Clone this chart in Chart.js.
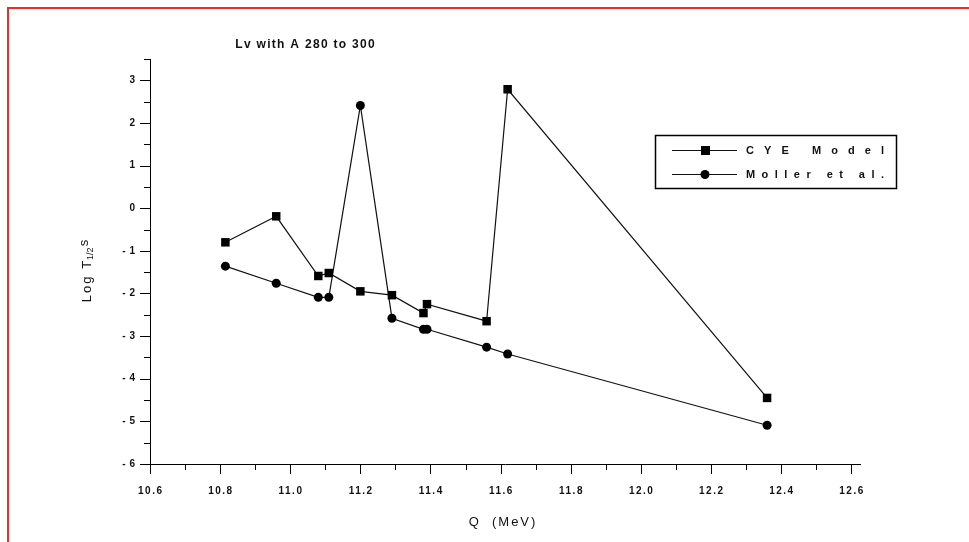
<!DOCTYPE html>
<html>
<head>
<meta charset="utf-8">
<script src="https://cdn.jsdelivr.net/npm/chart.js@4.4.1/dist/chart.umd.min.js"></script>
<style>
  html, body { margin: 0; padding: 0; background: #fff; }
  #wrap { position: relative; width: 969px; height: 542px; }
  #frame { position: absolute; left: 7px; top: 7px; right: 0; bottom: 0;
           border-top: 2px solid #ee2b2b; border-left: 2px solid #ee2b2b; pointer-events: none; }
  canvas { display: block; }
</style>
</head>
<body>
<div id="wrap">
  <canvas id="chart" width="969" height="542"></canvas>
  <div id="frame"></div>
</div>
<script>
// Q (MeV) and log half-lives
const qValues    = [10.815, 10.96, 11.08, 11.11, 11.20, 11.29, 11.38, 11.39, 11.56, 11.62, 12.36];
const cyeModel   = [-0.80, -0.19, -1.59, -1.52, -1.95, -2.04, -2.46, -2.25, -2.65, 2.79, -4.45];
const mollerEtAl = [-1.36, -1.76, -2.09, -2.09, 2.41, -2.58, -2.84, -2.84, -3.26, -3.42, -5.09];
const seriesNames = ['CYE Model', 'Moller et al.'];

const xTickLabels = ['10.6', '10.8', '11.0', '11.2', '11.4', '11.6', '11.8', '12.0', '12.2', '12.4', '12.6'];
const yTickLabels = ['3', '2', '1', '0', '-1', '-2', '-3', '-4', '-5', '-6'];

const chartTitle = 'Lv with A 280 to 300';
const xTitle = 'Q  (MeV)';

const INK = '#111';

function toPoints(ys) {
  return qValues.map((q, i) => ({ x: q, y: ys[i] }));
}

function spacedText(ctx, text, x, y, font, spacing, align) {
  ctx.save();
  ctx.font = font;
  ctx.letterSpacing = spacing + 'px';
  const w = ctx.measureText(text).width - spacing;
  let sx = x;
  if (align === 'center') sx = x - w / 2;
  else if (align === 'right') sx = x - w;
  ctx.textAlign = 'left';
  ctx.textBaseline = 'middle';
  ctx.fillStyle = INK;
  ctx.fillText(text, sx, y);
  ctx.restore();
  return w;
}

// spread a label over a fixed width, the way the old plot program did
function spreadText(ctx, text, x, y, font, width) {
  ctx.save();
  ctx.font = font;
  ctx.letterSpacing = '0px';
  const natural = ctx.measureText(text).width;
  ctx.restore();
  const gap = (width - natural) / (text.length - 1);
  return spacedText(ctx, text, x, y, font, gap, 'left');
}

const originLook = {
  id: 'originLook',
  afterDraw(chart) {
    const { ctx, scales: { x, y } } = chart;
    const area = chart.chartArea;
    ctx.save();
    ctx.strokeStyle = '#000';
    ctx.lineWidth = 1;

    // tick marks, outward
    x.ticks.forEach(t => {
      const major = Math.round(t.value * 10) % 2 === 0;
      const px = Math.round(x.getPixelForValue(t.value)) + 0.5;
      ctx.beginPath();
      ctx.moveTo(px, area.bottom);
      ctx.lineTo(px, area.bottom + (major ? 10 : 6));
      ctx.stroke();
    });
    y.ticks.forEach(t => {
      const major = Math.round(t.value * 2) % 2 === 0;
      const py = Math.round(y.getPixelForValue(t.value)) + 0.5;
      ctx.beginPath();
      ctx.moveTo(area.left, py);
      ctx.lineTo(area.left - (major ? 10 : 6), py);
      ctx.stroke();
    });
    ctx.restore();

    const tickFont = 'bold 10px "Liberation Sans", Arial, sans-serif';
    xTickLabels.forEach(lbl => {
      spacedText(ctx, lbl, x.getPixelForValue(parseFloat(lbl)), area.bottom + 27, tickFont, 1.5, 'center');
    });
    yTickLabels.forEach(lbl => {
      spacedText(ctx, lbl.replace('-', '- '), area.left - 15, y.getPixelForValue(parseFloat(lbl)), tickFont, 0.5, 'right');
    });

    // titles
    spacedText(ctx, chartTitle, 305, 45, 'bold 12px "Liberation Sans", Arial, sans-serif', 1.3, 'center');
    spacedText(ctx, xTitle, (area.left + area.right) / 2 - 3, 522, '13px "Liberation Sans", Arial, sans-serif', 2, 'center');

    // y title: Log T1/2 s, rotated
    ctx.save();
    ctx.translate(87, 271);
    ctx.rotate(-Math.PI / 2);
    const f1 = '13px "Liberation Sans", Arial, sans-serif';
    const f2 = '9px "Liberation Sans", Arial, sans-serif';
    ctx.font = f1; ctx.letterSpacing = '2px';
    const w1 = ctx.measureText('Log T').width;
    ctx.font = f2; ctx.letterSpacing = '0px';
    const w2 = ctx.measureText('1/2').width;
    ctx.font = f1;
    const w3 = ctx.measureText('s').width;
    const sx = -(w1 + w2 + w3) / 2;
    spacedText(ctx, 'Log T', sx, 0, f1, 2, 'left');
    spacedText(ctx, '1/2', sx + w1 - 1, 4, f2, 0, 'left');
    spacedText(ctx, 's', sx + w1 + w2, -3, f1, 0, 'left');
    ctx.restore();

    // legend box
    const lx = 655, ly = 135, lw = 241, lh = 53;
    ctx.save();
    ctx.strokeStyle = '#000';
    ctx.lineWidth = 1.5;
    ctx.strokeRect(lx + 0.5, ly + 0.5, lw, lh);
    chart.data.datasets.forEach((ds, i) => {
      const ry = ly + 15 + i * 24;
      ctx.strokeStyle = ds.borderColor;
      ctx.lineWidth = ds.borderWidth;
      ctx.beginPath();
      ctx.moveTo(lx + 17, ry + 0.5);
      ctx.lineTo(lx + 82, ry + 0.5);
      ctx.stroke();
      ctx.fillStyle = ds.pointBackgroundColor;
      if (ds.pointStyle === 'rect') {
        ctx.fillRect(lx + 46, ry - 4, 9, 9);
      } else {
        ctx.beginPath();
        ctx.arc(lx + 50, ry + 0.5, 4.5, 0, Math.PI * 2);
        ctx.fill();
      }
      spreadText(ctx, ds.label, lx + 91, ry + 1, 'bold 11px "Liberation Sans", Arial, sans-serif', 138);
    });
    ctx.restore();
  }
};

new Chart(document.getElementById('chart'), {
  type: 'scatter',
  data: {
    datasets: [
      {
        label: seriesNames[0],
        data: toPoints(cyeModel),
        showLine: true,
        borderColor: INK,
        borderWidth: 1.2,
        pointStyle: 'rect',
        pointRadius: 6,
        pointBackgroundColor: '#000',
        pointBorderWidth: 0
      },
      {
        label: seriesNames[1],
        data: toPoints(mollerEtAl),
        showLine: true,
        borderColor: INK,
        borderWidth: 1.2,
        pointStyle: 'circle',
        pointRadius: 4.5,
        pointBackgroundColor: '#000',
        pointBorderWidth: 0
      }
    ]
  },
  options: {
    responsive: false,
    animation: false,
    layout: { padding: { left: 142, right: 109, top: 59, bottom: 70 } },
    plugins: {
      legend: { display: false },
      title: { display: false },
      tooltip: { enabled: false }
    },
    scales: {
      x: {
        type: 'linear',
        min: 10.6,
        max: 12.625,
        ticks: { display: false, stepSize: 0.1, includeBounds: false },
        grid: { display: false },
        border: { display: true, color: '#000', width: 1 }
      },
      y: {
        type: 'linear',
        min: -6,
        max: 3.5,
        ticks: { display: false, stepSize: 0.5 },
        grid: { display: false },
        border: { display: true, color: '#000', width: 1 }
      }
    }
  },
  plugins: [originLook]
});
</script>
</body>
</html>
